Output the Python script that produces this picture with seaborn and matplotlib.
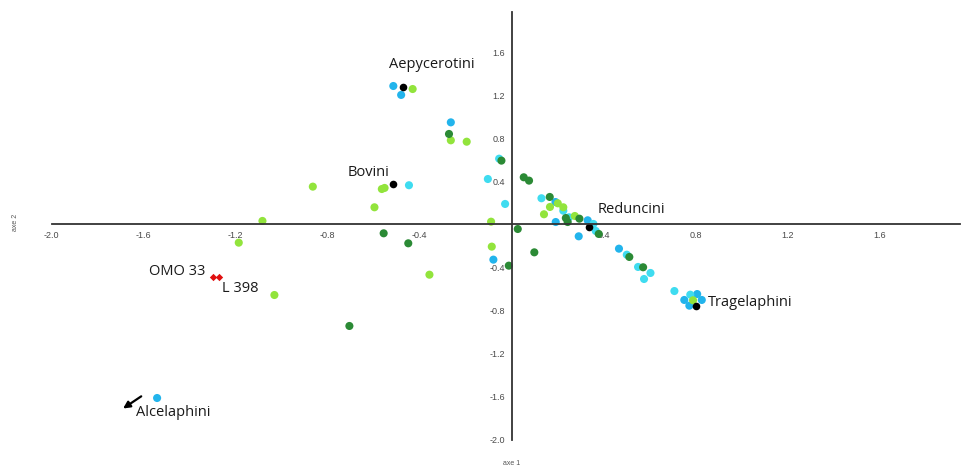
import numpy as np
import pandas as pd
import matplotlib
matplotlib.use('Agg')
import matplotlib.pyplot as plt
import seaborn as sns

# point coordinates, one list per colour group
blue_x = [-0.514, -0.480, -0.264, -0.079, 0.191, 0.192, 0.331, 0.292, 0.467, 0.807, 0.751, 0.827, 0.773, -1.541]
blue_y = [1.288, 1.205, 0.950, -0.327, 0.209, 0.023, 0.039, -0.110, -0.225, -0.647, -0.702, -0.702, -0.755, -1.614]

cyan_x = [-0.054, -0.103, -0.446, -0.028, 0.130, 0.225, 0.250, 0.356, 0.366, 0.501, 0.550, 0.604, 0.576, 0.708, 0.777]
cyan_y = [0.612, 0.423, 0.365, 0.191, 0.244, 0.128, 0.067, 0.005, -0.060, -0.281, -0.395, -0.451, -0.507, -0.619, -0.653]

lgreen_x = [-0.430, -0.264, -0.195, -0.564, -0.552, -0.864, -0.596, -1.083, -1.186, -1.031, -0.089, -0.086,
            -0.357, 0.167, 0.201, 0.225, 0.141, 0.275, 0.789]
lgreen_y = [1.260, 0.783, 0.770, 0.330, 0.340, 0.352, 0.160, 0.033, -0.169, -0.656, 0.026, -0.206,
            -0.467, 0.163, 0.197, 0.160, 0.095, 0.079, -0.705]

dgreen_x = [-0.272, -0.044, -0.556, -0.449, -0.705, 0.027, 0.099, -0.012, 0.053, 0.076, 0.166, 0.236,
            0.244, 0.295, 0.379, 0.512, 0.572]
dgreen_y = [0.842, 0.594, -0.082, -0.175, -0.944, -0.042, -0.259, -0.383, 0.439, 0.408, 0.256, 0.060,
            0.023, 0.054, -0.088, -0.302, -0.398]

tribes = ['Aepycerotini', 'Bovini', 'Reduncini', 'Tragelaphini']
centroid_x = [-0.470, -0.514, 0.338, 0.804]
centroid_y = [1.282, 0.377, -0.026, -0.755]

fossils = ['OMO 33', 'L 398']
fossil_x = [-1.297, -1.272]
fossil_y = [-0.491, -0.491]

ticks = [-2.0, -1.6, -1.2, -0.8, -0.4, 0.4, 0.8, 1.2, 1.6]

groups = []
for name, xs, ys in [('blue', blue_x, blue_y), ('cyan', cyan_x, cyan_y),
                     ('lgreen', lgreen_x, lgreen_y), ('dgreen', dgreen_x, dgreen_y)]:
    groups.append(pd.DataFrame({'axe1': xs, 'axe2': ys, 'grp': name}))
df = pd.concat(groups, ignore_index=True)

pal = {'blue': '#22b4ec', 'cyan': '#3fdcf0', 'lgreen': '#92e43c', 'dgreen': '#2b8a35'}

sns.set_style('white')
plt.rcParams['font.family'] = ['Open Sans', 'DejaVu Sans']

fig = plt.figure(figsize=(9.61, 4.68), dpi=100)
ax = fig.add_axes([0, 0, 1, 1])

sns.scatterplot(data=df, x='axe1', y='axe2', hue='grp', palette=pal, s=34, linewidth=0, legend=False, ax=ax)
sns.scatterplot(x=centroid_x, y=centroid_y, color='black', s=30, linewidth=0, ax=ax)
sns.scatterplot(x=fossil_x, y=fossil_y, color='#e01010', marker='D', s=14, linewidth=0, ax=ax)

ax.set_xlim(-2.224, 1.954)
ax.set_ylim(-2.265, 2.088)

ax.spines['left'].set_position(('data', 0))
ax.spines['bottom'].set_position(('data', 0))
ax.spines['right'].set_visible(False)
ax.spines['top'].set_visible(False)
ax.spines['bottom'].set_bounds(-2.0, 1.95)
ax.spines['left'].set_bounds(-2.0, 1.98)
for s in ['left', 'bottom']:
    ax.spines[s].set_color('#333333')
    ax.spines[s].set_linewidth(1.3)

ax.set_xticks(ticks)
ax.set_yticks(ticks)
ax.set_xticklabels(['%.1f' % t for t in ticks])
ax.set_yticklabels(['%.1f' % t for t in ticks])
ax.tick_params(axis='both', direction='out', length=3, width=1, color='#333333',
               labelsize=6.5, labelcolor='#4a4a4a', pad=1.5)
for lbl in ax.get_xticklabels() + ax.get_yticklabels():
    lbl.set_family(['Liberation Sans', 'DejaVu Sans'])
ax.set_xlabel('')
ax.set_ylabel('')
ax.grid(False)

ax.text(0, -2.22, 'axe 1', fontsize=5, color='#555555', ha='center', va='center', family=['Liberation Sans'])
ax.text(-2.155, 0.02, 'axe 2', fontsize=5, color='#555555', ha='center', va='center', rotation=90,
        family=['Liberation Sans'])

label_x = [-0.346, -0.620, 0.520, 1.037]
label_y = [1.484, 0.488, 0.144, -0.721]
for name, lx, ly in zip(tribes, label_x, label_y):
    ax.text(lx, ly, name, fontsize=10.5, color='#1a1a1a', ha='center', va='center')

ax.text(-1.454, -0.433, fossils[0], fontsize=10.5, color='#1a1a1a', ha='center', va='center')
ax.text(-1.180, -0.591, fossils[1], fontsize=10.5, color='#1a1a1a', ha='center', va='center')
ax.text(-1.472, -1.753, 'Alcelaphini', fontsize=10.5, color='#1a1a1a', ha='center', va='center')

ax.annotate('', xy=(-1.699, -1.726), xytext=(-1.600, -1.584),
            arrowprops=dict(arrowstyle='-|>', color='black', lw=1.6, mutation_scale=10))

plt.savefig('out.png', dpi=100)
